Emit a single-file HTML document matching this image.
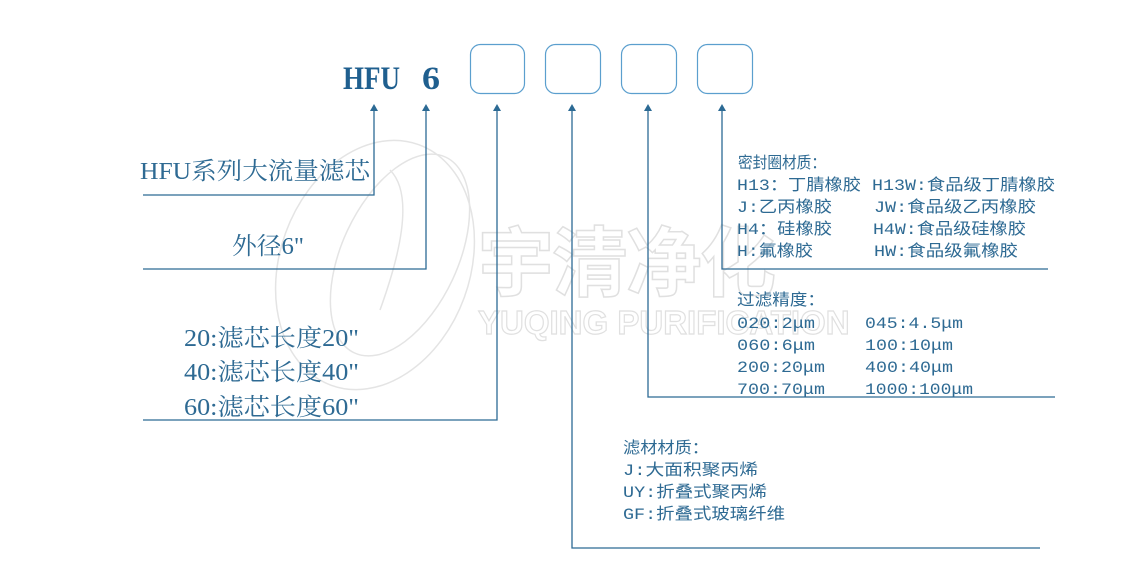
<!DOCTYPE html>
<html><head><meta charset="utf-8"><style>html,body{margin:0;padding:0;background:#fff}svg{display:block}</style></head>
<body>
<svg width="1123" height="566" viewBox="0 0 1123 566" xmlns="http://www.w3.org/2000/svg">
<g fill="none" stroke="#e4e4e4" stroke-width="1.5">
<ellipse cx="375" cy="265" rx="95" ry="128" transform="rotate(20 375 265)"/>
<ellipse cx="400" cy="255" rx="58" ry="108" transform="rotate(25 400 255)"/>
<path d="M390 170 Q420 200 380 310"/>
</g>
<text x="478" y="290" font-family="'Noto Sans CJK SC',sans-serif" font-weight="bold" font-size="76" fill="none" stroke="#e0e0e0" stroke-width="1.5" letter-spacing="-2">宇清净化</text>
<text x="478" y="334" font-family="'Liberation Sans',sans-serif" font-weight="bold" font-size="33" fill="none" stroke="#e0e0e0" stroke-width="1.2">YUQING PURIFICATION</text>

<text x="343" y="89" font-family="'Liberation Serif',serif" font-weight="bold" font-size="33" fill="#1f5f8f" textLength="57" lengthAdjust="spacingAndGlyphs">HFU</text>
<text x="422" y="89" font-family="'Liberation Serif',serif" font-weight="bold" font-size="33" fill="#1f5f8f" textLength="18" lengthAdjust="spacingAndGlyphs">6</text>
<g fill="none" stroke="#5b9fce" stroke-width="1.2">
<rect x="470.5" y="44.5" width="54" height="49" rx="10"/>
<rect x="545.5" y="44.5" width="55" height="49" rx="10"/>
<rect x="621.5" y="44.5" width="55" height="49" rx="10"/>
<rect x="697.5" y="44.5" width="55" height="49" rx="10"/>
</g>
<g fill="none" stroke="#2c6a94" stroke-width="1.3">
<polyline points="374,110 374,195 143,195"/>
<polyline points="426,110 426,269 143,269"/>
<polyline points="497,110 497,420 143,420"/>
<polyline points="572,110 572,548 1040,548"/>
<polyline points="648,110 648,397 1055,397"/>
<polyline points="722,110 722,269 1048,269"/>
</g>
<g fill="#2c6a94">
<polygon points="374,104 370,111 378,111"/>
<polygon points="426,104 422,111 430,111"/>
<polygon points="497,104 493,111 501,111"/>
<polygon points="572,104 568,111 576,111"/>
<polygon points="648,104 644,111 652,111"/>
<polygon points="722,104 718,111 726,111"/>
</g>
<g font-family="'Liberation Serif','Noto Serif CJK SC',serif" font-size="24" fill="#2e6a93">
<text x="140" y="179" textLength="230" lengthAdjust="spacingAndGlyphs">HFU系列大流量滤芯</text>
<text x="232" y="254" textLength="72" lengthAdjust="spacingAndGlyphs">外径6"</text>
<text x="184" y="346" textLength="175" lengthAdjust="spacingAndGlyphs">20:滤芯长度20"</text>
<text x="184" y="380" textLength="175" lengthAdjust="spacingAndGlyphs">40:滤芯长度40"</text>
<text x="184" y="415" textLength="175" lengthAdjust="spacingAndGlyphs">60:滤芯长度60"</text>
</g>
<g font-family="'Liberation Mono','Noto Sans CJK SC',monospace" font-size="16" fill="#2e6a93">
<text x="738" y="168" textLength="88" lengthAdjust="spacingAndGlyphs">密封圈材质：</text>
<text x="737" y="190" textLength="124" lengthAdjust="spacingAndGlyphs">H13：丁腈橡胶</text><text x="872" y="190" textLength="183" lengthAdjust="spacingAndGlyphs">H13W:食品级丁腈橡胶</text>
<text x="737" y="212" textLength="95" lengthAdjust="spacingAndGlyphs">J:乙丙橡胶</text><text x="874" y="212" textLength="162" lengthAdjust="spacingAndGlyphs">JW:食品级乙丙橡胶</text>
<text x="737" y="234" textLength="95" lengthAdjust="spacingAndGlyphs">H4：硅橡胶</text><text x="873" y="234" textLength="153" lengthAdjust="spacingAndGlyphs">H4W:食品级硅橡胶</text>
<text x="737" y="256" textLength="76" lengthAdjust="spacingAndGlyphs">H:氟橡胶</text><text x="874" y="256" textLength="144" lengthAdjust="spacingAndGlyphs">HW:食品级氟橡胶</text>
<text x="737" y="305" textLength="88" lengthAdjust="spacingAndGlyphs">过滤精度：</text>
<text x="737" y="328" textLength="78" lengthAdjust="spacingAndGlyphs">020:2μm</text><text x="865" y="328" textLength="98" lengthAdjust="spacingAndGlyphs">045:4.5μm</text>
<text x="737" y="350" textLength="78" lengthAdjust="spacingAndGlyphs">060:6μm</text><text x="865" y="350" textLength="88" lengthAdjust="spacingAndGlyphs">100:10μm</text>
<text x="737" y="372" textLength="88" lengthAdjust="spacingAndGlyphs">200:20μm</text><text x="865" y="372" textLength="88" lengthAdjust="spacingAndGlyphs">400:40μm</text>
<text x="737" y="394" textLength="88" lengthAdjust="spacingAndGlyphs">700:70μm</text><text x="865" y="394" textLength="108" lengthAdjust="spacingAndGlyphs">1000:100μm</text>
<text x="623" y="453" textLength="86" lengthAdjust="spacingAndGlyphs">滤材材质：</text>
<text x="623" y="475" textLength="135" lengthAdjust="spacingAndGlyphs">J:大面积聚丙烯</text>
<text x="623" y="497" textLength="144" lengthAdjust="spacingAndGlyphs">UY:折叠式聚丙烯</text>
<text x="623" y="519" textLength="162" lengthAdjust="spacingAndGlyphs">GF:折叠式玻璃纤维</text>
</g>
</svg>
</body></html>
